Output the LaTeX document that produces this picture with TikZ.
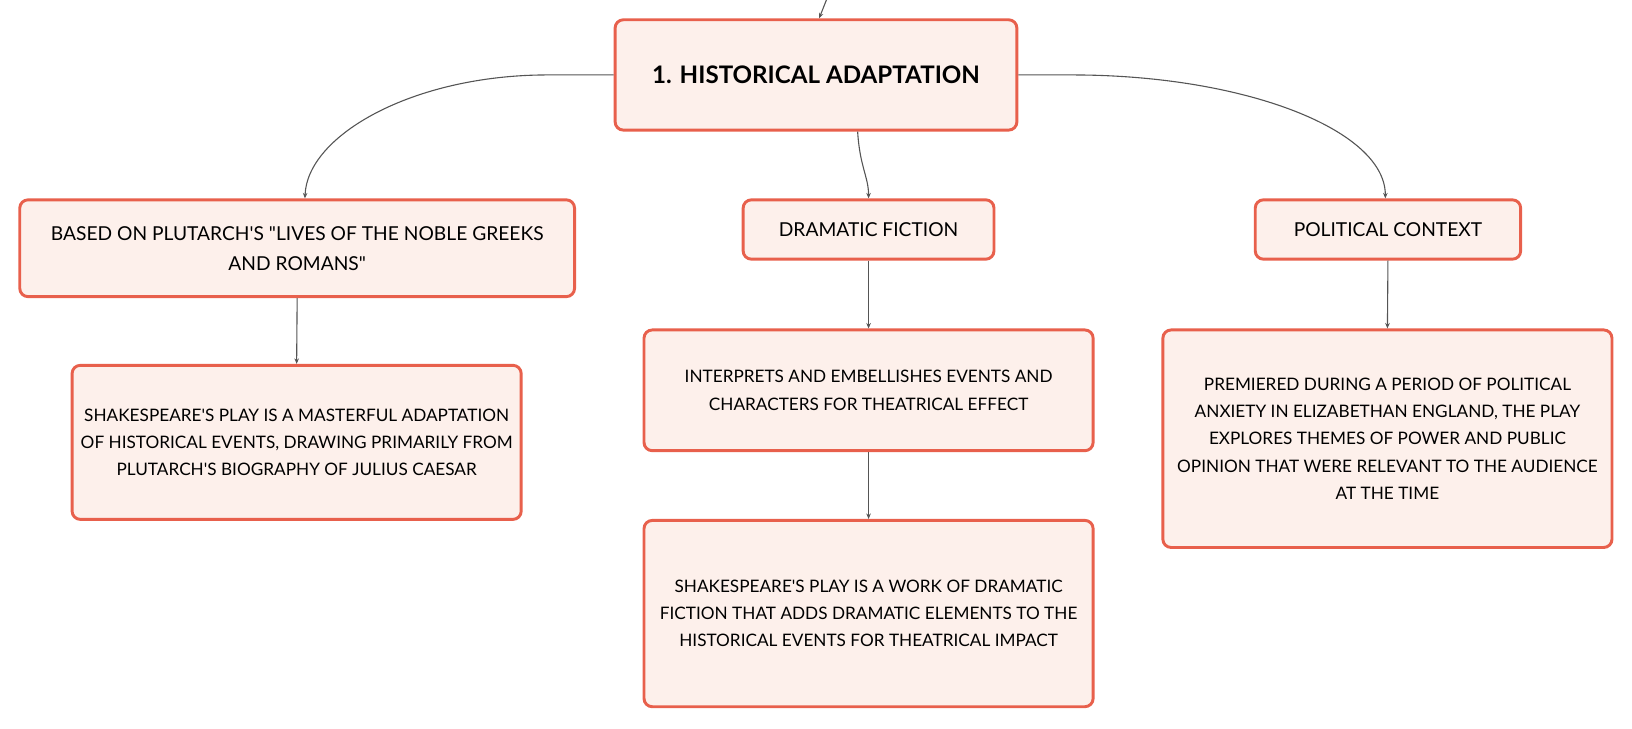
\documentclass[tikz,border=0pt]{standalone}
\usepackage{fontspec}
\setmainfont{Lato}
\usepackage{tikz}
\usetikzlibrary{positioning, arrows.meta, shapes}
\definecolor{coral}{RGB}{232, 96, 76}
\definecolor{rosado}{RGB}{253, 240, 235}
\definecolor{gris}{RGB}{85, 85, 85}
\newcommand{\apo}{\textquotesingle}
\tikzset{
    root/.style={draw=coral, fill=rosado, rectangle, rounded corners=4.5pt, line width=1.6pt, align=center, minimum width=7.72cm, minimum height=2.12cm, font=\fontsize{13.2}{16}\selectfont\bfseries},
    head/.style={draw=coral, fill=rosado, rectangle, rounded corners=4.5pt, line width=1.6pt, align=center, minimum height=1.14cm, font=\fontsize{10.5}{16.4}\selectfont},
    leaf/.style={draw=coral, fill=rosado, rectangle, rounded corners=4.5pt, line width=1.6pt, align=center, minimum width=8.63cm, font=\fontsize{9.4}{14.8}\selectfont},
    conn/.style={-{Stealth[length=3pt, width=2.5pt]}, gris, line width=0.6pt},
}
\begin{document}
\begin{tikzpicture}
        \useasboundingbox (0,0) rectangle (31.36,-14.0);

        \node [root] (hist) at (15.68,-1.44) {1. HISTORICAL ADAPTATION};
        \coordinate (top) at (15.90,0.05);

        \node [head, minimum width=10.66cm, minimum height=1.86cm] (plut) at (5.71,-4.77) {BASED ON PLUTARCH\apo S \textquotedbl LIVES OF THE NOBLE GREEKS\\AND ROMANS\textquotedbl};
        \node [head, minimum width=4.82cm] (drama) at (16.69,-4.41) {DRAMATIC FICTION};
        \node [head, minimum width=5.10cm] (polit) at (26.67,-4.41) {POLITICAL CONTEXT};

        \node [leaf, minimum height=2.96cm] (plutA) at (5.70,-8.50) {SHAKESPEARE\apo S PLAY IS A MASTERFUL ADAPTATION\\OF HISTORICAL EVENTS, DRAWING PRIMARILY FROM\\PLUTARCH\apo S BIOGRAPHY OF JULIUS CAESAR};
        \node [leaf, minimum height=2.32cm] (dramaA) at (16.69,-7.50) {INTERPRETS AND EMBELLISHES EVENTS AND\\CHARACTERS FOR THEATRICAL EFFECT};
        \node [leaf, minimum height=3.58cm] (dramaB) at (16.69,-11.79) {SHAKESPEARE\apo S PLAY IS A WORK OF DRAMATIC\\FICTION THAT ADDS DRAMATIC ELEMENTS TO THE\\HISTORICAL EVENTS FOR THEATRICAL IMPACT};
        \node [leaf, minimum height=4.18cm] (politA) at (26.66,-8.43) {PREMIERED DURING A PERIOD OF POLITICAL\\ANXIETY IN ELIZABETHAN ENGLAND, THE PLAY\\EXPLORES THEMES OF POWER AND PUBLIC\\OPINION THAT WERE RELEVANT TO THE AUDIENCE\\AT THE TIME};

        \draw [conn] (top) -- ([xshift=0.06cm]hist.north);

        \draw [conn] (hist.west) -- (10.52,-1.44) .. controls (7.94,-1.44) and (5.90,-2.60) .. ([xshift=0.15cm]plut.north);
        \draw [conn] ([xshift=0.8cm]hist.south) .. controls (16.52,-3.2) and (16.69,-3.4) .. (drama.north);
        \draw [conn] (hist.east) -- (20.60,-1.44) .. controls (23.92,-1.44) and (26.62,-2.50) .. ([xshift=-0.05cm]polit.north);

        \draw [conn] (plut.south) -- (plutA.north);
        \draw [conn] (drama.south) -- (dramaA.north);
        \draw [conn] (dramaA.south) -- (dramaB.north);
        \draw [conn] (polit.south) -- (politA.north);
    \end{tikzpicture}
\end{document}
